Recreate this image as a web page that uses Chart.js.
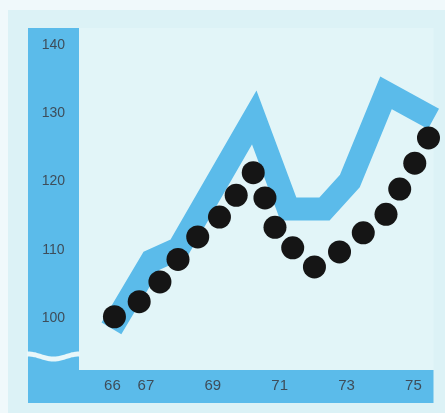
<!DOCTYPE html>
<html>
<head>
<meta charset="utf-8">
<script src="https://cdn.jsdelivr.net/npm/chart.js@4/dist/chart.umd.min.js"></script>
<style>
  html, body { margin: 0; padding: 0; background: #f0f9fb; }
  canvas { display: block; }
</style>
</head>
<body>
<canvas id="chart" width="445" height="413"></canvas>
<script>
// Axis ticks
const yearTicks  = [66, 67, 69, 71, 73, 75];
const valueTicks = [100, 110, 120, 130, 140];

// Broad blue trend band
const bandYears  = [65.97, 67.17, 67.98, 70.24, 71.26, 72.34, 73.10, 74.18, 75.60];
const bandValues = [98.5, 108.4, 110.2, 129.4, 116.0, 116.0, 120.1, 133.0, 129.2];

// Black dotted series
const dotYears  = [66.06, 66.80, 67.42, 67.96, 68.55, 69.20, 69.70, 70.21, 70.56,
                   70.86, 71.39, 72.04, 72.79, 73.50, 74.18, 74.59, 75.04, 75.45];
const dotValues = [100.2, 102.4, 105.3, 108.6, 111.9, 114.8, 118.0, 121.3, 117.6,
                   113.3, 110.3, 107.5, 109.7, 112.5, 115.2, 118.9, 122.7, 126.4];

const BLUE = '#5bbbea';
const PANEL = '#dcf2f6';
const PLOT = '#e2f5f8';

// Panel, plot area, L-shaped axis band and the wavy axis break
const backdrop = {
  id: 'backdrop',
  beforeDraw(chart) {
    const { ctx, chartArea: a, scales: { x, y } } = chart;
    ctx.save();
    ctx.fillStyle = PANEL;
    ctx.fillRect(8, 10, chart.width - 8, chart.height - 10);
    ctx.fillStyle = PLOT;
    ctx.fillRect(a.left, a.top, a.right - a.left, a.bottom - a.top);

    ctx.fillStyle = BLUE;
    ctx.fillRect(y.left, a.top, y.right - y.left, x.bottom - a.top);
    ctx.fillRect(y.left, x.top, x.right - y.left, x.bottom - x.top);

    const x0 = y.left - 1, x1 = y.right + 1, yb = a.bottom - 16;
    const wave = px => -2.5 * Math.cos(2 * Math.PI * (px - y.left) / (y.right - y.left));
    ctx.fillStyle = '#e8f7fa';
    ctx.beginPath();
    ctx.moveTo(x0, yb + wave(x0));
    for (let px = x0; px <= x1; px++) ctx.lineTo(px, yb + wave(px));
    for (let px = x1; px >= x0; px--) ctx.lineTo(px, yb + 5 + wave(px));
    ctx.closePath();
    ctx.fill();
    ctx.restore();
  }
};

new Chart(document.getElementById('chart'), {
  type: 'line',
  data: {
    datasets: [
      {
        label: 'dots',
        data: dotYears.map((yr, i) => ({ x: yr, y: dotValues[i] })),
        showLine: false,
        pointRadius: 11.5,
        pointHoverRadius: 11.5,
        pointBackgroundColor: '#151515',
        pointBorderWidth: 0,
        clip: false,
        order: 0
      },
      {
        label: 'band',
        data: bandYears.map((yr, i) => ({ x: yr, y: bandValues[i] })),
        borderColor: BLUE,
        borderWidth: 23,
        borderJoinStyle: 'miter',
        borderCapStyle: 'butt',
        pointRadius: 0,
        tension: 0,
        fill: false,
        clip: false,
        order: 1
      }
    ]
  },
  options: {
    responsive: false,
    animation: false,
    devicePixelRatio: 1,
    layout: { padding: { left: 28, top: 28, right: 8, bottom: 10 } },
    plugins: { legend: { display: false }, tooltip: { enabled: false } },
    scales: {
      x: {
        type: 'linear',
        min: 65,
        max: 75.6,
        grid: { display: false, drawTicks: false },
        border: { display: false },
        ticks: {
          autoSkip: false,
          maxRotation: 0,
          padding: 7,
          color: '#3e4d5a',
          font: { family: 'Liberation Sans', size: 15 },
          callback: v => String(v)
        },
        afterBuildTicks: s => { s.ticks = yearTicks.map(v => ({ value: v })); },
        afterFit: s => { s.height = 33; }
      },
      y: {
        type: 'linear',
        min: 92.4,
        max: 142.5,
        grid: { display: false, drawTicks: false },
        border: { display: false },
        ticks: {
          crossAlign: 'center',
          padding: 14,
          color: '#3e4d5a',
          font: { family: 'Liberation Sans', size: 14 },
          callback: v => String(v)
        },
        afterBuildTicks: s => { s.ticks = valueTicks.map(v => ({ value: v })); },
        afterFit: s => { s.width = 51; }
      }
    }
  },
  plugins: [backdrop]
});
</script>
</body>
</html>
